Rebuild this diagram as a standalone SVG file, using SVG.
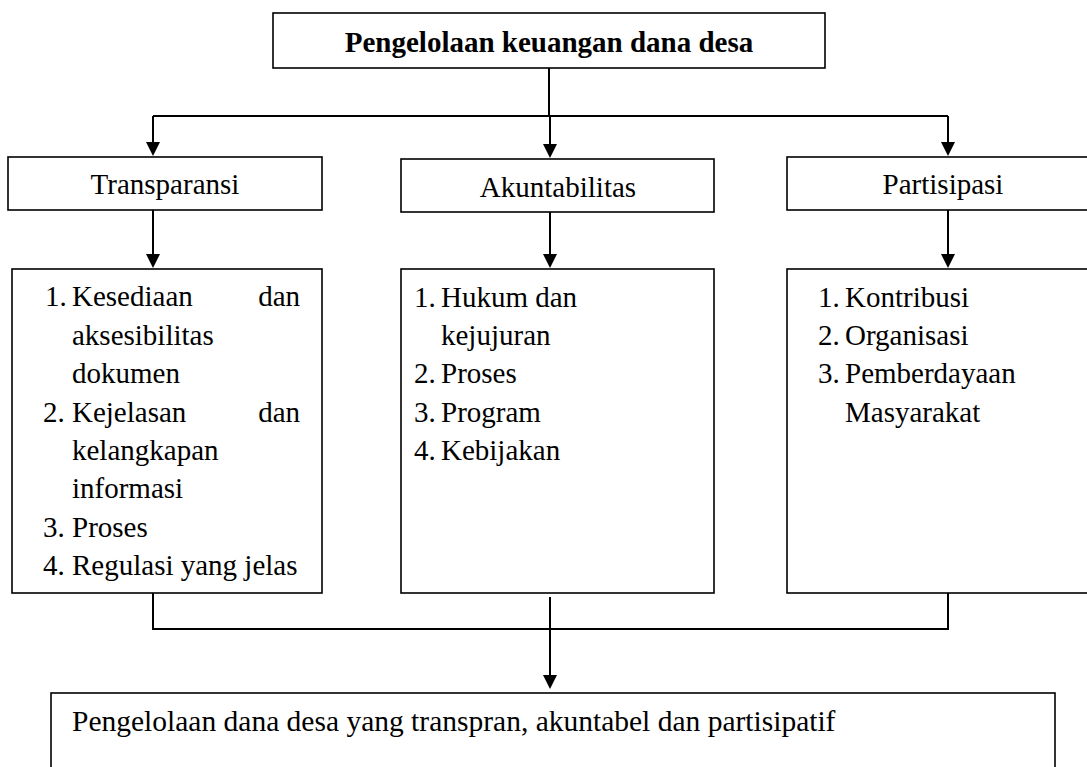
<svg xmlns="http://www.w3.org/2000/svg" width="1087" height="767" viewBox="0 0 1087 767">
<style>
.box{fill:#fff;stroke:#000;stroke-width:1.6}
.ln{fill:none;stroke:#000;stroke-width:2}
.t{font-family:"Liberation Serif","Times New Roman",serif;font-size:29px;fill:#000}
.b{font-weight:bold}
.c{text-anchor:middle}
.e{text-anchor:end}
</style>
<defs>
<clipPath id="clipT"><rect x="0" y="260" width="330" height="322"/></clipPath>
</defs>
<rect width="1087" height="767" fill="#fff"/>

<g id="connectors">
<path class="ln" d="M549,68 V116"/>
<path class="ln" d="M153,116 H948"/>
<path class="ln" d="M153,116 V143"/>
<path d="M146,142 L160,142 L153,156 Z"/>
<path class="ln" d="M550,116 V145"/>
<path d="M543,144 L557,144 L550,158 Z"/>
<path class="ln" d="M948,116 V143"/>
<path d="M941,142 L955,142 L948,156 Z"/>
<path class="ln" d="M153,210 V255"/>
<path d="M146,254 L160,254 L153,268 Z"/>
<path class="ln" d="M550,212 V255"/>
<path d="M543,254 L557,254 L550,268 Z"/>
<path class="ln" d="M948,210 V255"/>
<path d="M941,254 L955,254 L948,268 Z"/>
<path class="ln" d="M153,593 V629 H948 V593"/>
<path class="ln" d="M550,597 V676"/>
<path d="M543,675 L557,675 L550,689 Z"/>
</g>

<g id="top">
<rect class="box" x="273" y="13" width="552" height="55"/>
<text class="t b c" x="549" y="52">Pengelolaan keuangan dana desa</text>
</g>

<g id="transparansi">
<rect class="box" x="8" y="157" width="314" height="53"/>
<text class="t c" x="165" y="194">Transparansi</text>
</g>

<g id="akuntabilitas">
<rect class="box" x="401" y="159" width="313" height="53"/>
<text class="t c" x="558" y="197">Akuntabilitas</text>
</g>

<g id="partisipasi">
<rect class="box" x="787" y="157" width="312" height="53"/>
<text class="t c" x="943" y="194">Partisipasi</text>
</g>

<g id="list-transparansi">
<rect class="box" x="12" y="269" width="310" height="324"/>
<text class="t" x="45" y="306">1.</text>
<text class="t" x="72" y="306">Kesediaan</text>
<text class="t e" x="300" y="306">dan</text>
<text class="t" x="72" y="345">aksesibilitas</text>
<text class="t" x="72" y="383">dokumen</text>
<text class="t" x="43" y="422">2.</text>
<text class="t" x="72" y="422">Kejelasan</text>
<text class="t e" x="300" y="422">dan</text>
<text class="t" x="72" y="460">kelangkapan</text>
<text class="t" x="72" y="498">informasi</text>
<text class="t" x="43" y="537">3.</text>
<text class="t" x="72" y="537">Proses</text>
<g clip-path="url(#clipT)">
<text class="t" x="43" y="575">4.</text>
<text class="t" x="72" y="575">Regulasi yang jelas</text>
</g>
</g>

<g id="list-akuntabilitas">
<rect class="box" x="401" y="269" width="313" height="324"/>
<text class="t" x="414" y="307">1.</text>
<text class="t" x="441" y="307">Hukum dan</text>
<text class="t" x="441" y="345">kejujuran</text>
<text class="t" x="414" y="383">2.</text>
<text class="t" x="441" y="383">Proses</text>
<text class="t" x="414" y="422">3.</text>
<text class="t" x="441" y="422">Program</text>
<text class="t" x="414" y="460">4.</text>
<text class="t" x="441" y="460">Kebijakan</text>
</g>

<g id="list-partisipasi">
<rect class="box" x="787" y="269" width="312" height="324"/>
<text class="t" x="818" y="307">1.</text>
<text class="t" x="845" y="307">Kontribusi</text>
<text class="t" x="818" y="345">2.</text>
<text class="t" x="845" y="345">Organisasi</text>
<text class="t" x="818" y="383">3.</text>
<text class="t" x="845" y="383">Pemberdayaan</text>
<text class="t" x="845" y="422">Masyarakat</text>
</g>

<g id="result">
<rect class="box" x="51" y="693" width="1004" height="90"/>
<text class="t" x="72" y="731" style="font-size:29.5px">Pengelolaan dana desa yang transpran, akuntabel dan partisipatif</text>
</g>
</svg>
